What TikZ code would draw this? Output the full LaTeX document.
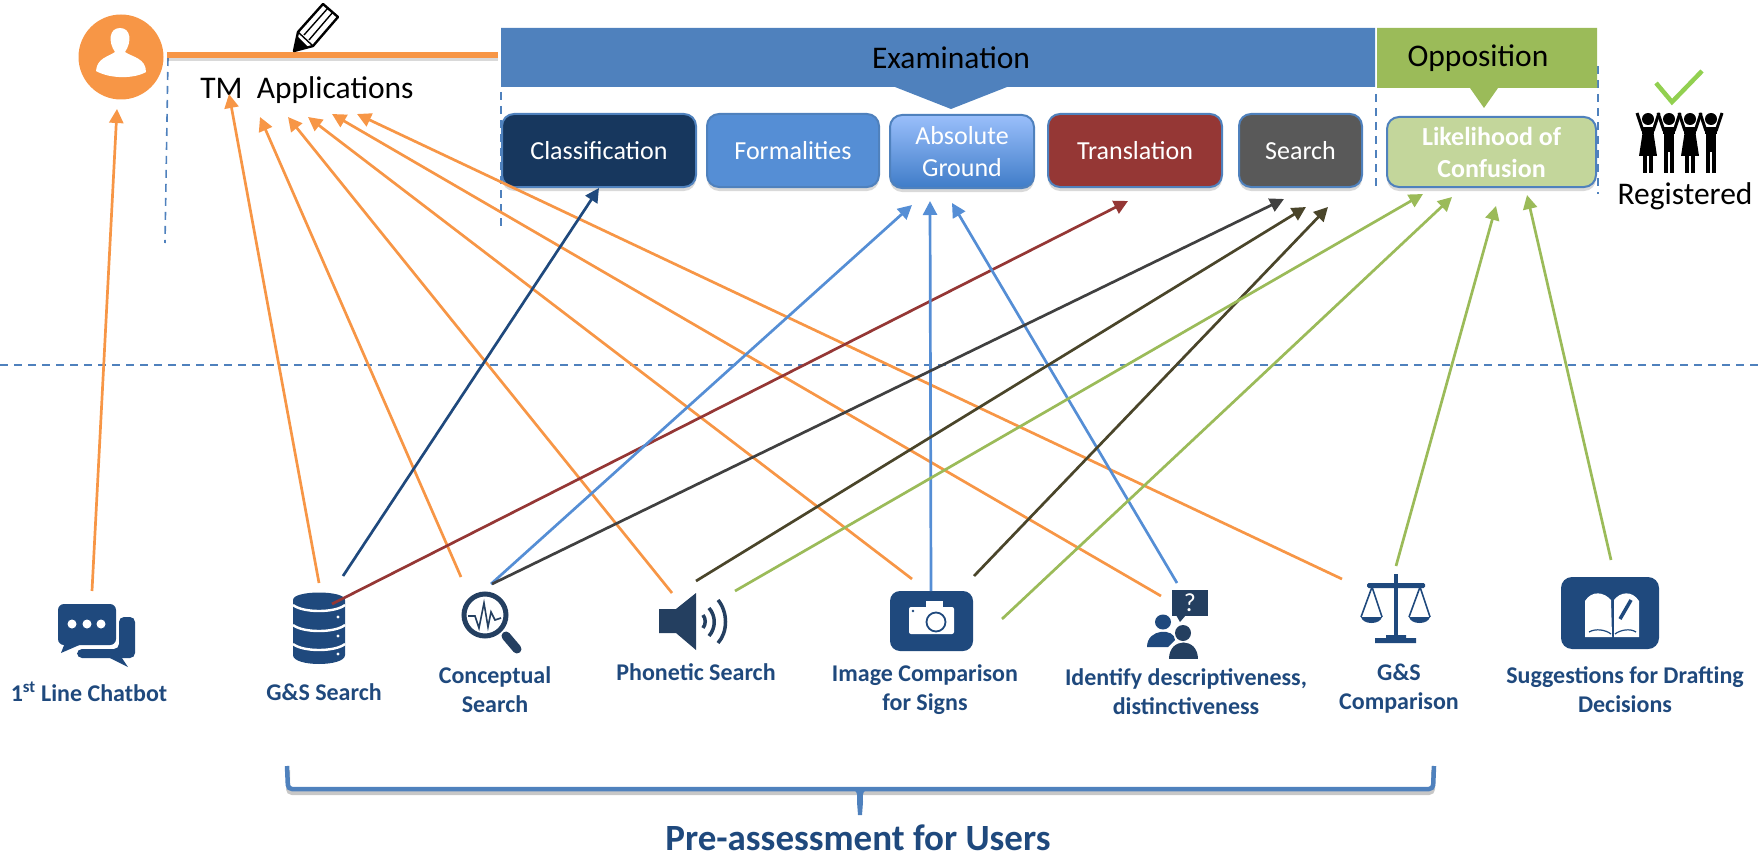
\documentclass[tikz,border=0pt]{standalone}
\usepackage{fontspec}
\setmainfont{Carlito}
\usepackage{tikz}
\usetikzlibrary{arrows.meta,shadows}

\definecolor{tmorange}{HTML}{F79646}
\definecolor{tmblue}{HTML}{4F81BD}
\definecolor{tmsky}{HTML}{558ED5}
\definecolor{tmtop}{HTML}{9ABFFB}
\definecolor{tmbottom}{HTML}{3F7CC8}
\definecolor{tmgreen}{HTML}{9BBB59}
\definecolor{tmpale}{HTML}{C3D69B}
\definecolor{tmcheck}{HTML}{92D050}
\definecolor{tmnavy}{HTML}{1F497D}
\definecolor{tmdeep}{HTML}{17375E}
\definecolor{tmslate}{HTML}{243F60}
\definecolor{tmred}{HTML}{953735}
\definecolor{tmgrey}{HTML}{595959}
\definecolor{tmolive}{HTML}{4A452A}

\tikzset{
  flow/.style={line width=2.7pt, -{Triangle[length=14pt,width=14pt]}},
  guide/.style={tmblue, line width=1.6pt, dash pattern=on 8pt off 6pt},
  banner/.style={font=\fontsize{31.5}{36}\selectfont, text=black, inner sep=0pt},
  stagebox/.style={draw=tmblue, line width=2pt, rounded corners=12pt, minimum height=73pt,
    inner sep=0pt, align=center, text=white, font=\fontsize{26}{32}\selectfont,
    drop shadow={shadow xshift=0pt, shadow yshift=-4pt, opacity=.3}},
  toolname/.style={text=tmnavy, align=center, inner sep=0pt, font=\fontsize{24}{29}\selectfont\bfseries}
}

\begin{document}
\begin{tikzpicture}[x=1pt, y=-1pt]
\useasboundingbox (0,0) rectangle (1764,856);

% guides
\draw[guide] (0,365) -- (1764,365);
\draw[guide] (168,58) -- (165,243);
\draw[guide] (501,92) -- (501,226);
\draw[guide] (1376,94) -- (1376,186);
\draw[guide] (1598,66) -- (1598,194);

% user and application line
\fill[tmorange] (121,57) circle (42.5);
\fill[white] (120,28) .. controls (109,28) and (108,42) .. (115,52)
  .. controls (108,57) and (97,58) .. (96,71) .. controls (110,79) and (134,79) .. (146,72)
  .. controls (146,58) and (132,57) .. (125,52) .. controls (132,42) and (131,28) .. (120,28) -- cycle;
\fill[tmorange, drop shadow={shadow xshift=0pt, shadow yshift=-3pt, opacity=.3}] (167,52) rectangle (498,58);
\draw[line width=2.4pt, fill=white, line join=round] (294,51) -- (298,32) -- (323,4) -- (338,17) -- (313,46) -- cycle;
\fill (294,51) -- (298,37) -- (308,47) -- cycle;
\draw[line width=1.4pt] (298,32) -- (313,46) (304,35) -- (328,8) (309,40) -- (333,12);

% stage headers
\fill[tmblue] (501,28) -- (1375,28) -- (1375,87) -- (1007,87) -- (951,109) -- (895,87) -- (501,87) -- cycle;
\fill[tmgreen] (1377,28) -- (1597,28) -- (1597,88) -- (1498,88) -- (1484,108) -- (1470,88) -- (1377,88) -- cycle;

\draw
(951,58) node[banner](examination){Examination}
(1478,58) node[banner](opposition){Opposition}
(307,90) node[banner](applications){TM\ \ Applications}
(1685,196) node[banner](registered){Registered}
(599,150.5) node[stagebox, fill=tmdeep, minimum width=194pt](classification){Classification}
(793,150.5) node[stagebox, fill=tmsky, minimum width=172pt](formalities){Formalities}
(962,151.5) node[stagebox, top color=tmtop, bottom color=tmbottom, minimum width=144pt](absolute){Absolute\\Ground}
(1135,150.5) node[stagebox, fill=tmred, minimum width=174pt](translation){Translation}
(1300.5,150.5) node[stagebox, fill=tmgrey, minimum width=123pt](search){Search}
(1491.5,152) node[stagebox, fill=tmpale, minimum width=209pt, minimum height=70pt, font=\fontsize{26}{32}\selectfont\bfseries](likelihood){Likelihood of\\Confusion};

% registered
\draw[tmcheck, line width=4.5pt] (1656,83) -- (1672,102) -- (1702,71);
\foreach \px/\skirt in {1648/1, 1669/0, 1690/1, 1711/0} {
  \fill (\px,119) circle (6);
  \draw[line width=3pt] (\px-11,113) -- (\px-5,131) (\px+11,113) -- (\px+5,131);
  \fill (\px-6,127) rectangle (\px+6,134);
  \draw[line width=3.4pt] (\px-3,150) -- (\px-3,173) (\px+3,150) -- (\px+3,173);
  \ifnum\skirt=1
    \fill (\px-5,130) -- (\px+5,130) -- (\px+9,156) -- (\px-9,156) -- cycle;
  \else
    \fill (\px-5,130) rectangle (\px+5,152);
  \fi
}

% tool icons
\fill[tmnavy, rounded corners=6pt] (58,604) rectangle (116,645);
\fill[tmnavy] (66,640) -- (61,653) -- (84,643) -- cycle;
\fill[tmnavy, rounded corners=5pt] (119,617) -- (135,617) -- (135,658) -- (77,658) -- (77,649) -- (119,649) -- cycle;
\fill[tmnavy] (104,655) -- (128,667) -- (120,655) -- cycle;
\foreach \px in {72,87,101} \fill[white] (\px,624) circle (4.5);

\fill[tmnavy] (293,600) .. controls (293,590) and (345,590) .. (345,600) -- (345,655)
  .. controls (345,667) and (293,667) .. (293,655) -- cycle;
\draw[white, line width=2.4pt] (293,605) .. controls (303,613) and (335,613) .. (345,605)
  (293,625) .. controls (303,633) and (335,633) .. (345,625)
  (293,644) .. controls (303,652) and (335,652) .. (345,644);
\foreach \py in {617,636,654} \fill[white] (338,\py) circle (1.6);

\draw[tmslate, line width=5pt] (485,615) circle (21);
\draw[tmslate, line width=9pt, line cap=round] (506,636) -- (517,649);
\draw[tmslate, line width=1.6pt] (468,616) -- (475,616) -- (479,628) -- (484,603) -- (488,627) -- (491,612) -- (495,620) -- (501,618);

\fill[tmslate] (659,609) -- (676,609) -- (696,593) -- (696,650) -- (676,633) -- (659,633) -- cycle;
\draw[tmslate, line width=3.5pt] (703,615) .. controls (706,619) and (706,624) .. (703,628);
\draw[tmslate, line width=3.5pt] (709,608) .. controls (716,616) and (716,628) .. (709,636);
\draw[tmslate, line width=3.5pt] (718,600) .. controls (728,612) and (728,632) .. (718,643);

\fill[tmnavy, rounded corners=10pt] (890,591) rectangle (973,651);
\fill[white, rounded corners=2pt] (909,607) rectangle (954,634);
\fill[white] (926,601) rectangle (943,609);
\draw[tmnavy, line width=1.8pt, fill=white] (936,622) circle (9.5);
\fill[tmnavy] (913,611) circle (1.3);

\fill[tmslate] (1172,590) rectangle (1208,616);
\fill[tmslate] (1176,615) -- (1180,622) -- (1186,615) -- cycle;
\node[text=white, inner sep=0pt, font=\fontsize{26}{26}\selectfont] (question) at (1190,603) {?};
\fill[tmnavy] (1163,622) ellipse (8 and 7.5);
\fill[tmnavy] (1147,647) .. controls (1147,628) and (1175,628) .. (1175,640) -- (1168,647) -- cycle;
\fill[tmslate] (1183,633) ellipse (8 and 8);
\fill[tmslate] (1169,659) .. controls (1169,637) and (1198,637) .. (1198,659) -- cycle;

\fill[tmnavy] (1394,574) rectangle (1398,638);
\fill[tmnavy, rounded corners=1.5pt] (1367,583) rectangle (1425,588);
\fill[tmnavy] (1375,638) rectangle (1416,643) (1386,635) rectangle (1406,638);
\draw[tmnavy, line width=1.6pt] (1361,617) -- (1372,587) -- (1382,617) (1409,617) -- (1420,587) -- (1430,617);
\fill[tmnavy] (1361,617) .. controls (1363,625) and (1380,625) .. (1382,617) -- cycle;
\fill[tmnavy] (1409,617) .. controls (1411,625) and (1428,625) .. (1430,617) -- cycle;

\fill[tmnavy, rounded corners=11pt] (1561,577) rectangle (1659,649);
\fill[white] (1585,601) .. controls (1592,590) and (1604,592) .. (1611,600) -- (1612,637) -- (1585,637) -- cycle;
\fill[white] (1614,600) .. controls (1620,592) and (1632,590) .. (1639,601) -- (1639,637) -- (1614,637) -- cycle;
\draw[tmnavy, line width=1.2pt] (1589,632) .. controls (1596,628) and (1606,630) .. (1611,634) (1615,634) .. controls (1620,630) and (1630,628) .. (1636,632);
\draw[tmnavy, line width=3.5pt] (1631,600) -- (1620,619);

% tool names
\draw
(89,692) node[toolname](chatbot){1\textsuperscript{st} Line Chatbot}
(324,692) node[toolname](gssearch){G\&S Search}
(495,689.5) node[toolname](conceptual){Conceptual\\Search}
(696,672) node[toolname](phonetic){Phonetic Search}
(925,690) node[toolname](image){Image Comparison\\for Signs}
(1186,691.5) node[toolname](identify){Identify descriptiveness,\\distinctiveness}
(1399,688.5) node[toolname](gscomparison){G\&S\\Comparison}
(1625,690) node[toolname](suggestions){Suggestions for Drafting\\Decisions}
(858,838) node[toolname, font=\fontsize{37}{42}\selectfont\bfseries](preassessment){Pre-assessment for Users};

% brace
\draw[black, opacity=.22, line width=4pt, yshift=-4pt, rounded corners=4pt] (288,766) -- (288,789) -- (1433,789) -- (1433,766);
\draw[tmblue, line width=4.5pt, rounded corners=4pt] (287,766) -- (288,789) -- (1433,789) -- (1434,766);
\fill[tmblue] (854,790) .. controls (858,792) and (857,796) .. (857,802) -- (858,815) -- (862,815) -- (863,802) .. controls (863,796) and (862,792) .. (866,790) -- cycle;

% arrow ends
\coordinate (chatout) at (92,591);
\coordinate (personin) at (117,109);
\coordinate (gsouta) at (319,583);
\coordinate (gsoutb) at (343,576);
\coordinate (gsoutc) at (332,604);
\coordinate (conouta) at (461,577);
\coordinate (conoutb) at (491,584);
\coordinate (conoutc) at (492,584);
\coordinate (phoouta) at (672,593);
\coordinate (phooutb) at (696,581);
\coordinate (phooutc) at (735,591);
\coordinate (imgouta) at (912,579);
\coordinate (imgoutb) at (931,591);
\coordinate (imgoutc) at (974,576);
\coordinate (imgoutd) at (1002,619);
\coordinate (ideouta) at (1161,596);
\coordinate (ideoutb) at (1177,583);
\coordinate (cmpouta) at (1342,579);
\coordinate (cmpoutb) at (1396,566);
\coordinate (sugout) at (1611,560);
\coordinate (tma) at (229,94);
\coordinate (tmb) at (260,117);
\coordinate (tmc) at (288,117);
\coordinate (tmd) at (308,117);
\coordinate (tme) at (332,114);
\coordinate (tmf) at (357,114);
\coordinate (classin) at (599,188);
\coordinate (absa) at (912,205);
\coordinate (absb) at (930,201);
\coordinate (absc) at (952,203);
\coordinate (transin) at (1128,201);
\coordinate (seaa) at (1284,199);
\coordinate (seab) at (1306,207);
\coordinate (seac) at (1328,207);
\coordinate (lika) at (1423,194);
\coordinate (likb) at (1452,197);
\coordinate (likc) at (1496,206);
\coordinate (likd) at (1527,195);

\draw[flow, tmorange] (chatout) -- (personin);
\draw[flow, tmorange] (gsouta) -- (tma);
\draw[flow, tmorange] (conouta) -- (tmb);
\draw[flow, tmorange] (phoouta) -- (tmc);
\draw[flow, tmorange] (imgouta) -- (tmd);
\draw[flow, tmorange] (ideouta) -- (tme);
\draw[flow, tmorange] (cmpouta) -- (tmf);
\draw[flow, tmnavy] (gsoutb) -- (classin);
\draw[flow, tmred] (gsoutc) -- (transin);
\draw[flow, tmsky] (conoutb) -- (absa);
\draw[flow, tmsky] (imgoutb) -- (absb);
\draw[flow, tmsky] (ideoutb) -- (absc);
\draw[flow, black!75] (conoutc) -- (seaa);
\draw[flow, tmolive] (phooutb) -- (seab);
\draw[flow, tmolive] (imgoutc) -- (seac);
\draw[flow, tmgreen] (phooutc) -- (lika);
\draw[flow, tmgreen] (imgoutd) -- (likb);
\draw[flow, tmgreen] (cmpoutb) -- (likc);
\draw[flow, tmgreen] (sugout) -- (likd);

\end{tikzpicture}
\end{document}
